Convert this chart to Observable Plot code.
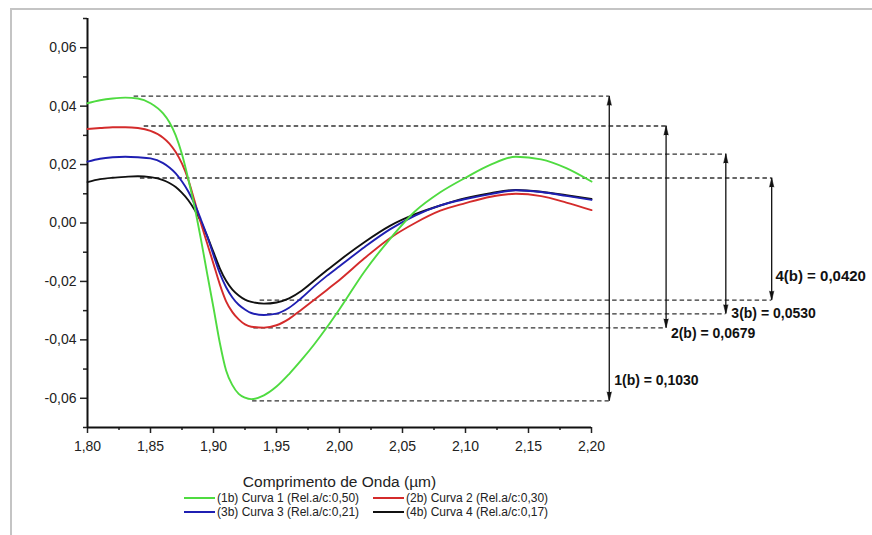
<!DOCTYPE html>
<html>
<head>
<meta charset="utf-8">
<script src="https://cdn.jsdelivr.net/npm/d3@7"></script>
<script src="https://cdn.jsdelivr.net/npm/@observablehq/plot@0.6"></script>
<style>
  html, body { margin: 0; padding: 0; background: #fff; }
  #wrap { position: relative; width: 872px; height: 535px; overflow: hidden; font-family: "Liberation Sans", Arial, sans-serif; }
  #frameTop { position: absolute; left: 10px; top: 8px; width: 862px; height: 2px; background: #c4c4c4; }
  #frameLeft { position: absolute; left: 10px; top: 8px; width: 2px; height: 527px; background: #c4c4c4; }
  #chart { position: absolute; left: 0; top: 0; }
  #legend { position: absolute; left: 184px; top: 491px; font-size: 12px; color: #222; }
  .row { height: 14px; line-height: 14px; white-space: nowrap; display: flex; }
  .item { display: flex; align-items: center; }
  .sw { display: inline-block; width: 31px; height: 2px; margin-right: 2px; }
</style>
</head>
<body>
<div id="wrap">
  <div id="frameTop"></div>
  <div id="frameLeft"></div>
  <div id="chart"></div>
  <div id="legend"></div>
</div>
<script>
// ---- data ----
const wavelength = [1.80, 1.81, 1.82, 1.83, 1.84, 1.85, 1.86, 1.865, 1.87, 1.875, 1.88, 1.885, 1.89, 1.895, 1.90, 1.905, 1.91, 1.915, 1.92, 1.925, 1.93, 1.94, 1.95, 1.96, 1.97, 1.98, 1.99, 2.00, 2.02, 2.04, 2.06, 2.08, 2.10, 2.12, 2.14, 2.16, 2.18, 2.20];

const curva1 = [0.0410, 0.0420, 0.0426, 0.0429, 0.0426, 0.0410, 0.0375, 0.0345, 0.0300, 0.0235, 0.0150, 0.0055, -0.0055, -0.0174, -0.0290, -0.0410, -0.0505, -0.0555, -0.0585, -0.0598, -0.0603, -0.0590, -0.0560, -0.0517, -0.0468, -0.0415, -0.0357, -0.0295, -0.0165, -0.0055, 0.0040, 0.0105, 0.0155, 0.0200, 0.0227, 0.0218, 0.0188, 0.0142];
const curva2 = [0.0322, 0.0325, 0.0328, 0.0328, 0.0325, 0.0315, 0.0292, 0.0272, 0.0243, 0.0203, 0.0148, 0.0075, 0.0000, -0.0070, -0.0140, -0.0210, -0.0268, -0.0305, -0.0330, -0.0347, -0.0355, -0.0358, -0.0350, -0.0328, -0.0296, -0.0263, -0.0229, -0.0195, -0.0120, -0.0052, 0.0000, 0.0042, 0.0068, 0.0090, 0.0100, 0.0092, 0.0070, 0.0044];
const curva3 = [0.0210, 0.0220, 0.0225, 0.0227, 0.0225, 0.0221, 0.0205, 0.0190, 0.0170, 0.0142, 0.0108, 0.0065, 0.0012, -0.0045, -0.0110, -0.0172, -0.0220, -0.0255, -0.0280, -0.0296, -0.0308, -0.0315, -0.0310, -0.0290, -0.0256, -0.0217, -0.0181, -0.0148, -0.0082, -0.0022, 0.0025, 0.0060, 0.0082, 0.0099, 0.0112, 0.0106, 0.0093, 0.0079];
const curva4 = [0.0140, 0.0150, 0.0155, 0.0158, 0.0160, 0.0157, 0.0147, 0.0137, 0.0123, 0.0103, 0.0078, 0.0045, 0.0005, -0.0045, -0.0100, -0.0155, -0.0198, -0.0228, -0.0248, -0.0262, -0.0270, -0.0276, -0.0272, -0.0258, -0.0232, -0.0197, -0.0162, -0.0128, -0.0065, -0.0010, 0.0030, 0.0060, 0.0085, 0.0102, 0.0113, 0.0107, 0.0095, 0.0082];

const seriesNames = ["(1b) Curva 1 (Rel.a/c:0,50)", "(2b) Curva 2 (Rel.a/c:0,30)", "(3b) Curva 3 (Rel.a/c:0,21)", "(4b) Curva 4 (Rel.a/c:0,17)"];
const seriesColors = ["#4fdb40", "#d42b2b", "#1f1fb2", "#111111"];

const yTicks = [-0.06, -0.04, -0.02, 0.00, 0.02, 0.04, 0.06];
const yMinorTicks = [-0.07, -0.05, -0.03, -0.01, 0.01, 0.03, 0.05, 0.07];
const xTicks = [1.80, 1.85, 1.90, 1.95, 2.00, 2.05, 2.10, 2.15, 2.20];
const xMinorTicks = [1.825, 1.875, 1.925, 1.975, 2.025, 2.075, 2.125, 2.175];
const xTitle = "Comprimento de Onda (µm)";

// annotations: peak-to-peak amplitudes
const annLabels = ["1(b) = 0,1030", "2(b) = 0,0679", "3(b) = 0,0530", "4(b) = 0,0420"];
const annTop = [0.0434, 0.0332, 0.0236, 0.0154];
const annBottom = [-0.0609, -0.0359, -0.0311, -0.0264];
const annTopStart = [1.837, 1.845, 1.848, 1.842];
const annBottomStart = [1.931, 1.932, 1.943, 1.937];
const annArrowX = [2.2141, 2.2592, 2.3066, 2.3430];
const annLabelX = [2.2180, 2.2630, 2.3110, 2.3460];
const annLabelY = [-0.0540, -0.0380, -0.0311, -0.0181];
const annLabelSize = [14, 14, 14, 15];

// ---- build tables ----
const curves = [curva1, curva2, curva3, curva4];
const lineData = curves.map((vals, i) => wavelength.map((x, j) => ({x, y: vals[j], s: seriesNames[i]})));
const ann = annLabels.map((label, i) => ({
  label, top: annTop[i], bottom: annBottom[i], topStart: annTopStart[i], bottomStart: annBottomStart[i],
  ax: annArrowX[i], lx: annLabelX[i], ly: annLabelY[i], fs: annLabelSize[i]
}));
const fmt = d => d.toFixed(2).replace(".", ",");

const drawOrder = [3, 1, 2, 0];

const chart = Plot.plot({
  width: 872,
  height: 490,
  marginLeft: 87,
  marginRight: 281,
  marginTop: 18,
  marginBottom: 63,
  style: {fontFamily: "'Liberation Sans', Arial, sans-serif", fontSize: "14px", color: "#222", background: "transparent", overflow: "visible"},
  x: {domain: [1.80, 2.20]},
  y: {domain: [-0.07, 0.07]},
  marks: [
    // axes
    Plot.axisY({ticks: yTicks, tickFormat: fmt, tickSize: 7, tickPadding: 4, fontSize: 14, label: null, strokeWidth: 1.5}),
    Plot.axisY({ticks: yMinorTicks, tickFormat: () => "", tickSize: 4, label: null, strokeWidth: 1.5}),
    Plot.axisX({ticks: xTicks, tickFormat: fmt, tickSize: 6, tickPadding: 8, fontSize: 14, label: null, strokeWidth: 1.5}),
    Plot.axisX({ticks: xMinorTicks, tickFormat: () => "", tickSize: 3, label: null, strokeWidth: 1.5}),
    Plot.ruleX([1.80], {y1: -0.07, y2: 0.07, stroke: "#111", strokeWidth: 2}),
    Plot.ruleY([-0.07], {x1: 1.80, x2: 2.20, stroke: "#111", strokeWidth: 2}),
    Plot.text([xTitle], {frameAnchor: "bottom", dy: 55, lineAnchor: "middle", fontSize: 15.5, fill: "#222"}),
    // dashed reference lines
    Plot.ruleY(ann, {y: "top", x1: "topStart", x2: "ax", stroke: "#333", strokeWidth: 1.3, strokeDasharray: "4.5,3"}),
    Plot.ruleY(ann, {y: "bottom", x1: "bottomStart", x2: "ax", stroke: "#333", strokeWidth: 1.3, strokeDasharray: "4.5,3"}),
    // curves
    ...drawOrder.map(i => Plot.line(lineData[i], {x: "x", y: "y", stroke: seriesColors[i], strokeWidth: 1.9, curve: "monotone-x"})),
    // double arrows
    Plot.ruleX(ann, {x: "ax", y1: "top", y2: "bottom", stroke: "#111", strokeWidth: 1.3}),
    Plot.vector(ann, {x: "ax", y: "top", length: 9, rotate: 0, shape: "spike", anchor: "end", r: 2.2, fill: "#111", stroke: "#111", strokeWidth: 0.5}),
    Plot.vector(ann, {x: "ax", y: "bottom", length: 9, rotate: 180, shape: "spike", anchor: "end", r: 2.2, fill: "#111", stroke: "#111", strokeWidth: 0.5}),
    Plot.text(ann, {x: "lx", y: "ly", text: "label", textAnchor: "start", fontWeight: "bold", fontSize: "fs", fill: "#111"})
  ]
});
document.getElementById("chart").appendChild(chart);

// legend (HTML, below the svg)
const legend = document.getElementById("legend");
[[0, 1], [2, 3]].forEach(pair => {
  const row = document.createElement("div");
  row.className = "row";
  pair.forEach((i, k) => {
    const item = document.createElement("span");
    item.className = "item";
    item.style.width = k === 0 ? "189px" : "auto";
    const sw = document.createElement("span");
    sw.className = "sw";
    sw.style.background = seriesColors[i];
    const t = document.createElement("span");
    t.textContent = seriesNames[i];
    item.appendChild(sw);
    item.appendChild(t);
    row.appendChild(item);
  });
  legend.appendChild(row);
});
</script>
</body>
</html>
